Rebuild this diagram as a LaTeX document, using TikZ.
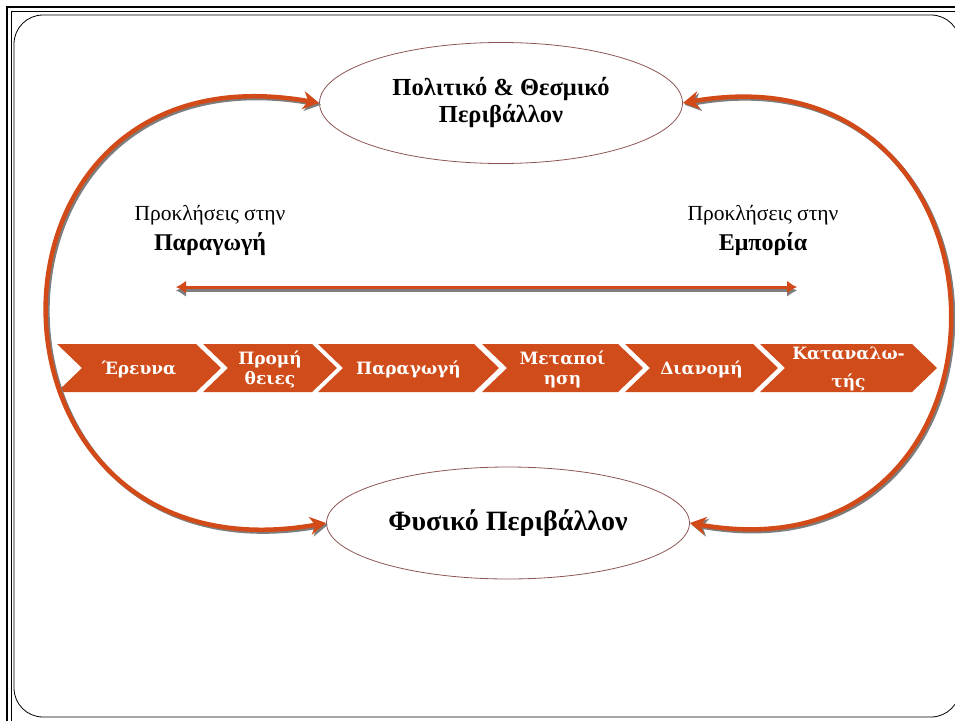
\documentclass[tikz,border=0pt]{standalone}
\usepackage{fontspec}
\setmainfont{Liberation Serif}
\newfontfamily\chevfont{DejaVu Serif}
\usetikzlibrary{arrows.meta,shapes.geometric}

\definecolor{arcorange}{RGB}{209,74,24}
\definecolor{chevorange}{RGB}{208,76,26}
\definecolor{ellbrown}{RGB}{140,84,84}
\definecolor{shadowgray}{RGB}{125,125,125}

\begin{document}
\begin{tikzpicture}[x=1pt,y=-1pt]
\tikzstyle{every node}+=[inner sep=0pt]
\tikzstyle{envnode}=[ellipse, draw=ellbrown, line width=0.8pt, align=center, font=\bfseries\fontsize{24.5}{27}\selectfont]
\tikzstyle{chevtext}=[text=white, align=center, font=\chevfont\bfseries\fontsize{17}{20}\selectfont]
\tikzstyle{biglabel}=[align=center, font=\fontsize{21.5}{30}\selectfont]
\tikzstyle{bigarc}=[draw=arcorange, line width=4.5pt, {Stealth[length=16pt,width=18pt,inset=5pt]}-{Stealth[length=16pt,width=18pt,inset=5pt]}, preaction={draw=shadowgray, line width=4.5pt, {Stealth[length=16pt,width=18pt,inset=5pt]}-{Stealth[length=16pt,width=18pt,inset=5pt]}, transform canvas={shift={(1.8pt,-1.8pt)}}}]
\tikzstyle{hbar}=[draw=arcorange, line width=3pt, {Latex[length=10pt,width=13pt]}-{Latex[length=10pt,width=13pt]}, preaction={draw=shadowgray, line width=3pt, {Latex[length=10pt,width=13pt]}-{Latex[length=10pt,width=13pt]}, transform canvas={shift={(0pt,-3.5pt)}}}]
\useasboundingbox (0,0) rectangle (955,720);
\clip (0,0) rectangle (955,720);
% frames
\draw [line width=2pt] (7,740) -- (7,7) -- (975,7);
\draw [line width=0.9pt] (11.5,740) -- (11.5,11.5) -- (975,11.5);
\draw [line width=0.8pt, rounded corners=29pt] (14,15) rectangle (960,717);
% chevrons
\foreach \a/\b/\txt [count=\i] in {57/196/{Έρευνα}, 203/312/{Προμή\\θειες}, 318/474/{Παραγωγή}, 482/618/{Μεταποί\\ηση}, 625/753/{Διανομή}, 760/912/{Καταναλω-\\[8pt]τής}}
{
\fill [chevorange] (\a,344) -- (\b,344) -- (\b+25,368) -- (\b,392) -- (\a,392) -- (\a+25,368) -- cycle;
\node [chevtext] (chev\i) at ({(\a+\b+25)/2},369) {\txt};
}
% environments
\node [envnode, minimum width=363pt, minimum height=121pt] (pol) at (501,103) {Πολιτικό \& Θεσμικό\\Περιβάλλον};
\node [envnode, minimum width=363pt, minimum height=112pt, font=\bfseries\fontsize{28}{30}\selectfont] (fys) at (508,523) {Φυσικό Περιβάλλον};
\node [biglabel] (prod) at (210,230) {Προκλήσεις στην\\\fontsize{24}{30}\selectfont\textbf{Παραγωγή}};
\node [biglabel] (trade) at (763,230) {Προκλήσεις στην\\\fontsize{24}{30}\selectfont\textbf{Εμπορία}};
% arrows
\draw [bigarc] (pol.west) to[out=170, in=190, looseness=2.26] (fys.west);
\draw [bigarc] (pol.east) to[out=10, in=350, looseness=2.16] (fys.east);
\coordinate (hleft) at (176,287);
\coordinate (hright) at (797,287);
\draw [hbar] (hleft) -- (hright);
\end{tikzpicture}
\end{document}
